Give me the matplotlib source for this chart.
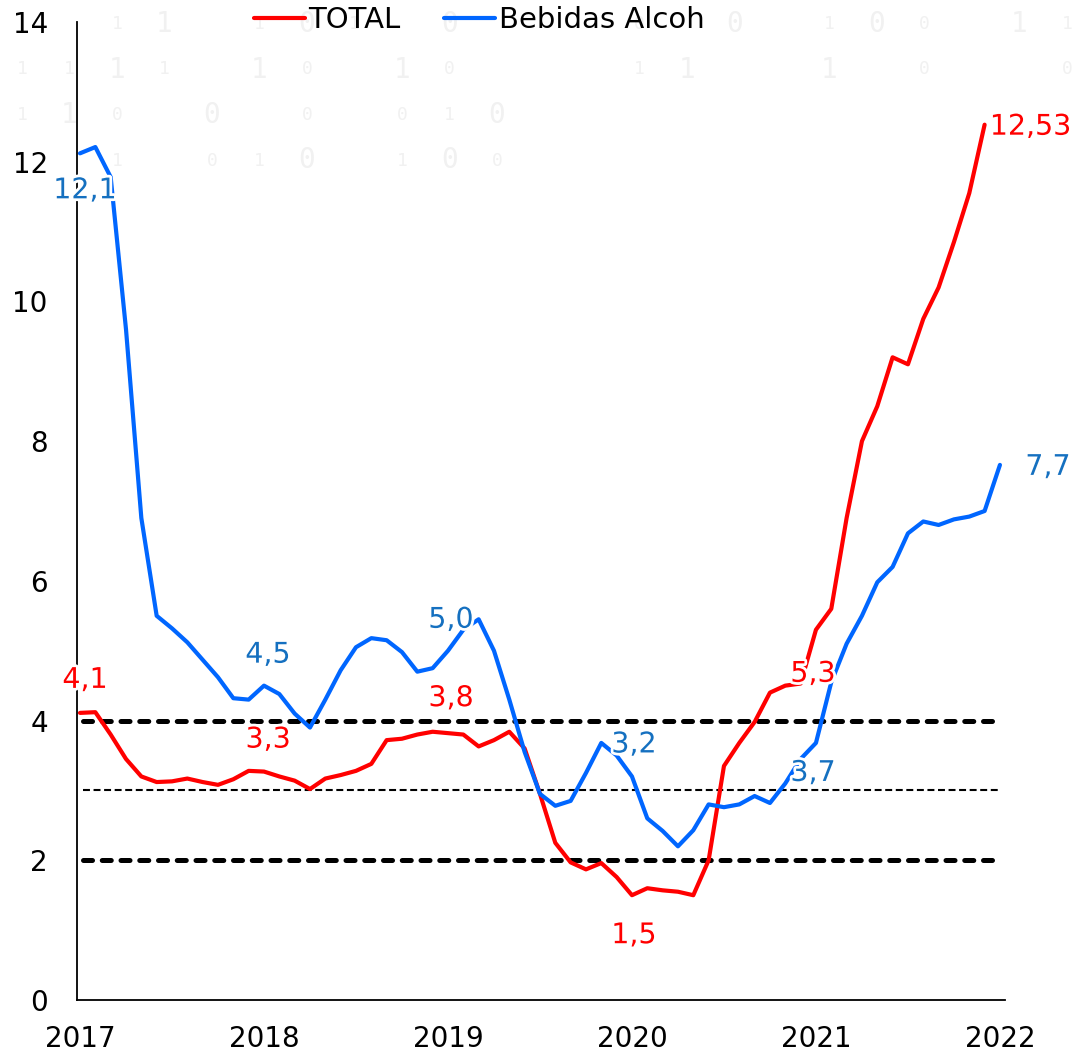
import matplotlib
matplotlib.use("Agg")
import matplotlib.pyplot as plt
import matplotlib.patheffects as pe
from matplotlib import rcParams

rcParams["font.family"] = "DejaVu Sans"
rcParams["lines.scale_dashes"] = False

RED = "#FF0000"; BLUE = "#0066FF"
RED_TXT = "#FF0000"; BLUE_TXT = "#1570C0"

years = ["2017", "2018", "2019", "2020", "2021", "2022"]

# monthly values, Jan 2017 onward (index 0 = Jan 2017)
total = [4.11, 4.12, 3.80, 3.45, 3.20, 3.12, 3.13, 3.17, 3.12, 3.08, 3.16, 3.28,
         3.27, 3.20, 3.14, 3.02, 3.17, 3.22, 3.28, 3.38, 3.72, 3.74, 3.80, 3.84,
         3.82, 3.80, 3.63, 3.72, 3.84, 3.60, 2.95, 2.25, 1.97, 1.87, 1.96, 1.76,
         1.50, 1.60, 1.57, 1.55, 1.50, 2.00, 3.35, 3.68, 3.98, 4.40, 4.50, 4.53,
         5.30, 5.60, 6.90, 8.00, 8.50, 9.20, 9.10, 9.75, 10.20, 10.85, 11.55, 12.53]
bebidas = [12.12, 12.21, 11.78, 9.60, 6.90, 5.50, 5.32, 5.12, 4.87, 4.62, 4.32, 4.30,
           4.50, 4.38, 4.10, 3.90, 4.30, 4.72, 5.05, 5.18, 5.15, 4.98, 4.70, 4.75,
           5.00, 5.30, 5.45, 5.00, 4.30, 3.55, 2.95, 2.78, 2.85, 3.25, 3.68, 3.50,
           3.20, 2.60, 2.42, 2.20, 2.43, 2.80, 2.76, 2.80, 2.92, 2.82, 3.10, 3.45,
           3.68, 4.55, 5.10, 5.50, 5.98, 6.20, 6.68, 6.85, 6.80, 6.88, 6.92, 7.00, 7.66]
targets_thick = [2, 4]
target_mid = 3

# which points get a value label, and where the label sits (pixels from the point)
total_labels = [(0, (5, 33)), (12, (4, 32)), (24, (3, 35)), (36, (2, -40)),
                (48, (-3, -44)), (59, (46, -2))]
bebidas_labels = [(0, (5, -37)), (12, (4, 31)), (24, (3, 31)), (36, (2, 32)),
                  (48, (-3, -30)), (60, (48, -2))]

fig = plt.figure(figsize=(10.74, 10.55), dpi=100)
ax = fig.add_axes([77/1074, 1-1000/1055, 928/1074, 978/1055])

# faint binary watermark at the top
wm_rows = ["  11 101 0   0 0 100 11",
           "1111 10 10   11  1 0  0",
           "110 0 0 010",
           "  1 010 100"]
for r, row in enumerate(wm_rows):
    for k, ch in enumerate(row):
        if ch != " ":
            fig.text((22 + 47.5*k)/1074, 1-(24 + 45.5*r)/1055, ch,
                     fontsize=13 if (k + r) % 3 else 20, color="#f1f1f1",
                     family="DejaVu Sans Mono", ha="center", va="center", zorder=0)

months = list(range(len(bebidas)))
for t in targets_thick:
    ax.plot([0.2, 59.5], [t, t], color="black", lw=3.6, ls=(0, (6.5, 7.0)),
            dash_capstyle="round", zorder=2)
ax.plot([0.2, 59.9], [target_mid, target_mid], color="black", lw=1.5,
        ls=(0, (5, 2.6)), zorder=2)

ax.plot(months[:len(total)], total, color=RED, lw=3.0, label="TOTAL", zorder=3,
        solid_joinstyle="round", solid_capstyle="round")
ax.plot(months, bebidas, color=BLUE, lw=3.0, label="Bebidas Alcoh", zorder=3,
        solid_joinstyle="round", solid_capstyle="round")

halo = [pe.withStroke(linewidth=4, foreground="white")]

def fmt(v, decimals=1):
    return f"{v:.{decimals}f}".replace(".", ",")

for i, off in total_labels:
    ax.annotate(fmt(total[i], 2 if i == len(total) - 1 else 1), (i, total[i]),
                xytext=off, textcoords="offset pixels", ha="center", va="center",
                fontsize=20.5, color=RED_TXT, path_effects=halo, zorder=5,
                annotation_clip=False)
for i, off in bebidas_labels:
    ax.annotate(fmt(bebidas[i]), (i, bebidas[i]), xytext=off,
                textcoords="offset pixels", ha="center", va="center",
                fontsize=20.5, color=BLUE_TXT, path_effects=halo, zorder=5,
                annotation_clip=False)

ax.set_xlim(-0.196, 60.33)
ax.set_ylim(0, 14)
ax.set_xticks(range(0, 61, 12))
ax.set_xticklabels(years)
ax.set_yticks(range(0, 15, 2))
ax.tick_params(length=0, labelsize=20, colors="black")
ax.tick_params(axis="y", pad=21)
ax.tick_params(axis="x", pad=18)
for s in ["top", "right"]:
    ax.spines[s].set_visible(False)
for s in ["left", "bottom"]:
    ax.spines[s].set_linewidth(1.3)
ax.patch.set_alpha(0)

fig.legend(loc="upper center", bbox_to_anchor=(0.446, 1.019), ncol=2, frameon=False,
           fontsize=21, handlelength=1.75, handletextpad=0.12, columnspacing=1.5)

fig.savefig("out.png", dpi=100)
